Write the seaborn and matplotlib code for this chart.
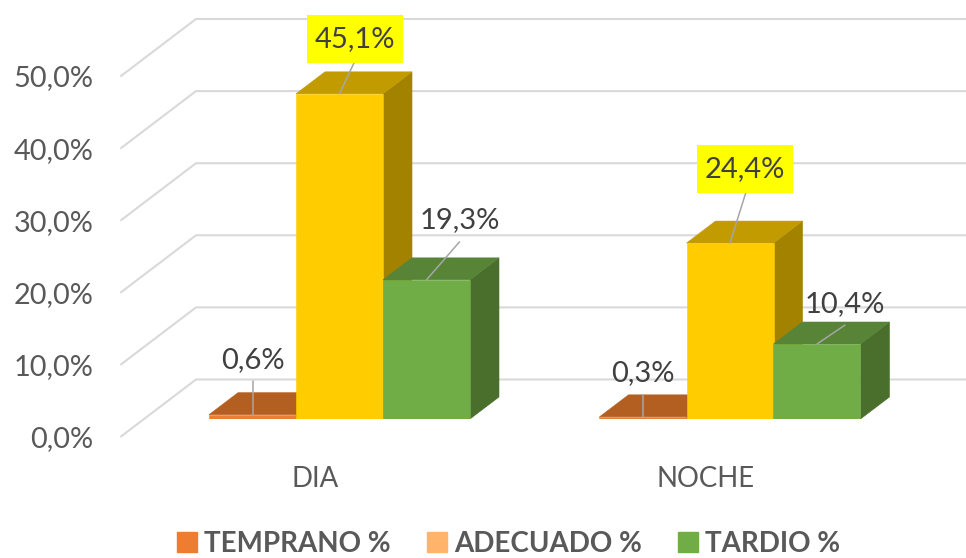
"""
plot.py

Excel style 3D clustered bars, drawn from a seaborn barplot with the
depth faces added from each bar's own geometry.
"""

import matplotlib
matplotlib.use("Agg")
import matplotlib.pyplot as plt
import matplotlib.transforms as mtrans
from matplotlib.patches import Patch, Polygon, Rectangle
import pandas as pd
import seaborn as sns

# --- data ---
categories = ["DIA", "NOCHE"]
series_names = ["TEMPRANO %", "ADECUADO %", "TARDIO %"]
temprano = [0.6, 0.3]
adecuado = [45.1, 24.4]
tardio = [19.3, 10.4]
y_ticks = [0, 10, 20, 30, 40, 50]

# --- styles ---
front_colors = ["#ED7D31", "#FFCC00", "#70AD47"]
top_colors = ["#B45F22", "#C29B00", "#578437"]
side_colors = ["#A35A1F", "#A38200", "#4A6E2B"]
legend_colors = ["#ED7D31", "#FFB36B", "#70AD47"]
GRID_COLOR = "#D9D9D9"
LEADER_COLOR = "#A6A6A6"
TICK_COLOR = "#595959"
LABEL_COLOR = "#404040"

# --- layout, in pixels of the 966x558 figure ---
W, H = 966, 558
AX_LEFT, BAR_FLOOR = 121, 419
PX_PER_CAT, PX_PER_UNIT = 390.5, 7.21
FIRST_CAT = 339.5
BAR_DX, BAR_DY = 29, 22
WALL_DX, WALL_DY = 75, 57
WALL_DROP = 17.5
# label centre and leader end, relative to the top of each bar's front face
label_offsets = [[(0, 55), (0, 44)], [(15, 55), (15, 74)], [(33, 60), (28, 40)]]
leader_ends = [[(0, 34), (0, 22)], [(15, 32), (16, 51)], [(33, 38), (28, 19)]]


def dx(px):
    return px / PX_PER_CAT


def dy(px):
    return px / PX_PER_UNIT


df = pd.DataFrame({
    "categoria": categories * 3,
    "serie": [s for s in series_names for _ in categories],
    "valor": temprano + adecuado + tardio,
})

sns.set_theme(style="white")
plt.rcParams["font.family"] = ["Lato", "DejaVu Sans"]

fig = plt.figure(figsize=(W / 100, H / 100), dpi=100)
ax = fig.add_axes([AX_LEFT / W, (H - BAR_FLOOR) / H, (W - AX_LEFT) / W, BAR_FLOOR / H])

sns.barplot(
    data=df, x="categoria", y="valor", hue="serie",
    hue_order=series_names, order=categories,
    palette=front_colors, width=261 / PX_PER_CAT, gap=0,
    saturation=1, legend=False, ax=ax, zorder=5,
)

x_left = (AX_LEFT - FIRST_CAT) / PX_PER_CAT
x_right = (W - FIRST_CAT) / PX_PER_CAT
ax.set_xlim(x_left, x_right)
ax.set_ylim(0, BAR_FLOOR / PX_PER_UNIT)
ax.set_xlabel("")
ax.set_ylabel("")
sns.despine(ax=ax, left=True, bottom=True)

# Back wall and side wall gridlines
for v in y_ticks:
    y0 = v - dy(WALL_DROP)
    xs = [x_left, x_left + dx(WALL_DX), x_right]
    ys = [y0, y0 + dy(WALL_DY), y0 + dy(WALL_DY)]
    ax.plot(xs, ys, color=GRID_COLOR, lw=1.5, zorder=1, clip_on=False,
            solid_joinstyle="miter")

# Depth faces and data labels for each bar
for i, container in enumerate(ax.containers):
    for j, bar in enumerate(container):
        x0, w, h = bar.get_x(), bar.get_width(), bar.get_height()
        x1 = x0 + w
        z = 5 + i
        bar.set_zorder(z + 0.5)
        bar.set_edgecolor(front_colors[i])
        bar.set_linewidth(0.4)
        top = [(x0, h), (x0 + dx(BAR_DX), h + dy(BAR_DY)),
               (x1 + dx(BAR_DX), h + dy(BAR_DY)), (x1, h)]
        side = [(x1, 0), (x1 + dx(BAR_DX), dy(BAR_DY)),
                (x1 + dx(BAR_DX), h + dy(BAR_DY)), (x1, h)]
        ax.add_patch(Polygon(side, closed=True, fc=side_colors[i], ec=side_colors[i], lw=0.4, zorder=z))
        ax.add_patch(Polygon(top, closed=True, fc=top_colors[i], ec=top_colors[i], lw=0.4, zorder=z))

        xc = x0 + w / 2
        off_x, off_y = label_offsets[i][j]
        end_x, end_y = leader_ends[i][j]
        lx, ly = xc + dx(off_x), h + dy(off_y)
        ax.plot([xc, xc + dx(end_x)], [h, h + dy(end_y)], color=LEADER_COLOR,
                lw=1.1, zorder=12, clip_on=False)
        if i == 1:
            ax.add_patch(Rectangle((lx - dx(48), ly - dy(24)), dx(96), dy(48),
                                   fc="#FFFF00", ec="none", zorder=13))
        ax.text(lx, ly, f"{h:.1f}%".replace(".", ","), ha="center", va="center",
                fontsize=21, color=LABEL_COLOR, zorder=14)

# Axis labels sit on the front of the floor, not on the bar plane
ax.set_yticks(y_ticks)
ax.set_yticklabels([f"{v:.1f}%".replace(".", ",") for v in y_ticks])
ax.tick_params(axis="y", length=0, pad=20, labelsize=20.8, labelcolor=TICK_COLOR)
ax.tick_params(axis="x", length=0, pad=34, labelsize=19.8, labelcolor=TICK_COLOR)
y_shift = mtrans.ScaledTranslation(0, -WALL_DROP / 100, fig.dpi_scale_trans)
x_shift = mtrans.ScaledTranslation(-24 / 100, 0, fig.dpi_scale_trans)
for label in ax.get_yticklabels():
    label.set_transform(label.get_transform() + y_shift)
for label in ax.get_xticklabels():
    label.set_transform(label.get_transform() + x_shift)

handles = [Patch(color=c, label=s) for c, s in zip(legend_colors, series_names)]
fig.legend(
    handles=handles, loc="center", bbox_to_anchor=(508.5 / W, 1 - 543.5 / H), ncols=3,
    frameon=False, handlelength=0.72, handleheight=0.72, handletextpad=0.26,
    columnspacing=1.3, borderpad=0,
    prop={"size": 20, "weight": "bold"}, labelcolor=TICK_COLOR,
)

fig.savefig("out.png", dpi=100)
plt.close(fig)
